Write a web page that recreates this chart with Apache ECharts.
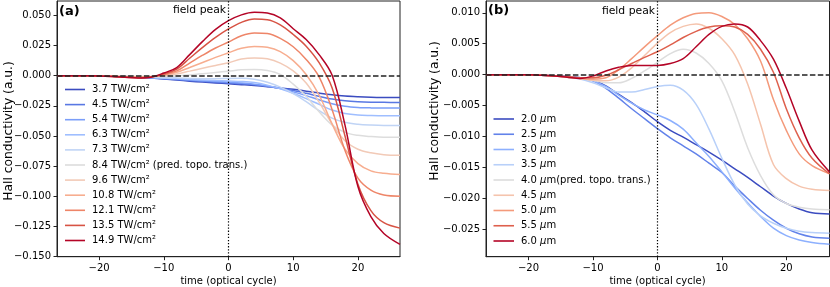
<!DOCTYPE html>
<html><head><meta charset="utf-8">
<script src="https://cdn.jsdelivr.net/npm/echarts@6/dist/echarts.min.js"></script>
<style>html,body{margin:0;padding:0;background:#fff}#c{width:830px;height:287px}</style>
</head><body><div id="c"></div>
<script>
// ---------- DATA ----------
const tA = [-26.5,-24,-22,-20,-18,-16,-14,-12,-10,-8,-6,-4,-2,0,2,4,6,8,10,12,14,16,18,20,22,24,26.5];
const tB = [-26.6,-24,-22,-20,-18,-16,-14,-12,-10,-8,-6,-4,-2,0,2,4,6,8,10,12,14,16,18,20,22,24,26.7];

const namesA = ['3.7 TW/cm²','4.5 TW/cm²','5.4 TW/cm²','6.3 TW/cm²','7.3 TW/cm²','8.4 TW/cm² (pred. topo. trans.)','9.6 TW/cm²','10.8 TW/cm²','12.1 TW/cm²','13.5 TW/cm²','14.9 TW/cm²'];
const namesB = ['2.0 μm','2.5 μm','3.0 μm','3.5 μm','4.0 μm(pred. topo. trans.)','4.5 μm','5.0 μm','5.5 μm','6.0 μm'];

const a37  = [0,0,-0.0001,-0.0002,-0.0004,-0.0008,-0.0013,-0.002,-0.0028,-0.0036,-0.0045,-0.0053,-0.006,-0.0067,-0.0074,-0.0082,-0.0091,-0.0101,-0.0113,-0.0128,-0.0144,-0.0158,-0.0168,-0.0174,-0.0178,-0.018,-0.0181];
const a45  = [0,0,-0.0001,-0.0002,-0.0004,-0.0007,-0.0012,-0.0018,-0.0025,-0.0032,-0.004,-0.0047,-0.0054,-0.006,-0.0067,-0.0076,-0.0089,-0.0104,-0.0123,-0.0146,-0.0171,-0.0193,-0.0208,-0.0216,-0.022,-0.0221,-0.0222];
const a54  = [0,0,-0.0001,-0.0002,-0.0003,-0.0006,-0.0011,-0.0016,-0.0022,-0.0028,-0.0035,-0.0041,-0.0047,-0.0053,-0.006,-0.007,-0.0086,-0.0107,-0.0134,-0.0165,-0.02,-0.0232,-0.0253,-0.0263,-0.0267,-0.0268,-0.0268];
const a63  = [0,0,-0.0001,-0.0002,-0.0003,-0.0006,-0.001,-0.0014,-0.0019,-0.0024,-0.003,-0.0035,-0.004,-0.0044,-0.0048,-0.0057,-0.0078,-0.0108,-0.0146,-0.019,-0.0238,-0.0285,-0.0313,-0.0326,-0.033,-0.0332,-0.0332];
const a73  = [0,0,-0.0001,-0.0001,-0.0003,-0.0005,-0.0008,-0.0012,-0.0016,-0.002,-0.0023,-0.0025,-0.0025,-0.0023,-0.0022,-0.003,-0.0055,-0.0095,-0.0148,-0.0215,-0.029,-0.0352,-0.0387,-0.0403,-0.041,-0.0413,-0.0413];
const a84  = [0,0,-0.0001,-0.0001,-0.0002,-0.0004,-0.0006,-0.0007,-0.0006,-0.0002,0.0006,0.0016,0.0027,0.0038,0.0049,0.0052,0.0043,0.001,-0.007,-0.017,-0.03,-0.041,-0.047,-0.0495,-0.0505,-0.051,-0.051];
const a96  = [0,0,-0.0001,-0.0001,-0.0003,-0.0006,-0.0008,-0.0007,0,0.0015,0.0038,0.0062,0.0085,0.0108,0.0138,0.0147,0.014,0.0105,0.004,-0.006,-0.022,-0.04,-0.054,-0.061,-0.064,-0.0655,-0.066];
const a108 = [0,0,-0.0001,-0.0002,-0.0004,-0.0008,-0.0011,-0.0008,0.0005,0.0028,0.0068,0.011,0.0152,0.019,0.0228,0.0243,0.0236,0.02,0.0125,0.001,-0.016,-0.04,-0.061,-0.073,-0.079,-0.081,-0.082];
const a121 = [0,0,-0.0001,-0.0002,-0.0005,-0.001,-0.0014,-0.001,0.001,0.004,0.0105,0.017,0.023,0.028,0.0332,0.0355,0.035,0.031,0.024,0.0135,-0.001,-0.028,-0.062,-0.085,-0.095,-0.099,-0.1];
const a135 = [0,0,-0.0001,-0.0002,-0.0006,-0.0012,-0.0017,-0.0012,0.0015,0.0055,0.0145,0.0235,0.0318,0.0388,0.0443,0.047,0.0465,0.0422,0.0342,0.0245,0.0108,-0.01,-0.05,-0.09,-0.112,-0.122,-0.1265];
const a149 = [0,0,-0.0001,-0.0002,-0.0006,-0.0012,-0.0018,-0.0012,0.0022,0.0068,0.0175,0.0285,0.0385,0.0457,0.0505,0.0526,0.052,0.048,0.039,0.03,0.0175,0.0005,-0.041,-0.092,-0.117,-0.131,-0.14];

const b20 = [0,0,0,0,-0.0001,-0.0002,-0.0003,-0.0005,-0.0009,-0.0018,-0.0032,-0.0045,-0.006,-0.0076,-0.009,-0.0101,-0.0113,-0.0125,-0.0138,-0.0152,-0.0166,-0.0181,-0.0196,-0.0208,-0.0217,-0.0223,-0.0225];
const b25 = [0,0,0,0,-0.0001,-0.0002,-0.0003,-0.0005,-0.001,-0.0022,-0.0038,-0.0055,-0.0071,-0.0087,-0.0102,-0.0115,-0.0128,-0.0143,-0.0158,-0.018,-0.02,-0.0219,-0.0235,-0.0248,-0.0257,-0.0262,-0.0264];
const b30 = [0,0,0,0,-0.0001,-0.0002,-0.0003,-0.0005,-0.001,-0.0019,-0.0033,-0.0046,-0.0057,-0.0065,-0.0074,-0.0088,-0.011,-0.0132,-0.0157,-0.0183,-0.0207,-0.0229,-0.0248,-0.026,-0.0267,-0.0271,-0.0274];
const b35 = [0,0,0,0,-0.0001,-0.0002,-0.0004,-0.0007,-0.0013,-0.0021,-0.0028,-0.0028,-0.0024,-0.0019,-0.0017,-0.0025,-0.0048,-0.0088,-0.0135,-0.0178,-0.0209,-0.0228,-0.024,-0.0248,-0.0253,-0.0255,-0.0256];
const b40 = [0,0,0,0,-0.0001,-0.0002,-0.0004,-0.0006,-0.0009,-0.0013,-0.0013,-0.0006,0.0006,0.002,0.0034,0.0041,0.0035,0.0018,-0.001,-0.006,-0.0118,-0.0163,-0.0194,-0.0208,-0.0214,-0.0217,-0.0218];
const b45 = [0,0,0,0,-0.0001,-0.0002,-0.0004,-0.0006,-0.0009,-0.001,-0.0004,0.0011,0.0031,0.0051,0.0068,0.0078,0.0082,0.0075,0.0058,0.0032,-0.0015,-0.008,-0.0145,-0.0168,-0.018,-0.0185,-0.0187];
const b50 = [0,0,0,0,-0.0001,-0.0002,-0.0004,-0.0006,-0.0007,-0.0005,0.0008,0.0026,0.0045,0.0063,0.008,0.0092,0.0099,0.01,0.0094,0.0081,0.0058,0.0022,-0.004,-0.009,-0.0128,-0.0147,-0.016];
const b55 = [0,0,0,0,-0.0001,-0.0002,-0.0003,-0.0005,-0.0005,-0.0001,0.0008,0.0018,0.0028,0.0037,0.0048,0.006,0.007,0.0077,0.0079,0.0077,0.0065,0.0041,0.0004,-0.0055,-0.0102,-0.0135,-0.016];
const b60 = [0,0,0,0,-0.0001,-0.0002,-0.0004,-0.0006,-0.0002,0.0006,0.0012,0.0015,0.0015,0.0015,0.0018,0.0026,0.0045,0.0065,0.0078,0.0082,0.0077,0.0055,0.0025,-0.0022,-0.0075,-0.0122,-0.0157];

const valuesA = [a37,a45,a54,a63,a73,a84,a96,a108,a121,a135,a149];
const valuesB = [b20,b25,b30,b35,b40,b45,b50,b55,b60];

const xTicks = [-20,-10,0,10,20];
const yTicksA = [-0.15,-0.125,-0.1,-0.075,-0.05,-0.025,0,0.025,0.05];
const yTicksB = [-0.025,-0.02,-0.015,-0.01,-0.005,0,0.005,0.01];

// ---------- STYLE ----------
const colorsA = ['#3b4cc0','#5978e3','#7b9ef9','#9fbeff','#c0d4f5','#dddddd','#f2cab7','#f7ad8f','#ee8568','#d75344','#b40426'];
const colorsB = ['#3b4cc0','#6282ea','#8db0fe','#b8d0f9','#dddddd','#f5c4ad','#f49a7b','#de604d','#b40426'];
const FONT = 'DejaVu Sans';
const FS = 10;
const AX = '#222';
const minus = s => String(s).replace('-', '\u2212');

const chart = echarts.init(document.getElementById('c'), null, {renderer:'canvas'});

function xAxis(gi, min, max){
  return {gridIndex:gi, type:'value', min:min, max:max,
    axisLine:{show:true, onZero:false, lineStyle:{color:AX, width:1}},
    axisTick:{show:true, length:3.5, customValues:xTicks, lineStyle:{color:AX, width:1}},
    axisLabel:{customValues:xTicks, margin:6.5, color:'#000', fontFamily:FONT, fontSize:FS,
      formatter:v=>minus(Math.round(v))},
    splitLine:{show:false}};
}
function yAxis(gi, min, max, ticks){
  return {gridIndex:gi, type:'value', min:min, max:max,
    axisLine:{show:true, onZero:false, lineStyle:{color:AX, width:1}},
    axisTick:{show:true, length:3.5, customValues:ticks, lineStyle:{color:AX, width:1}},
    axisLabel:{customValues:ticks, margin:6, color:'#000', fontFamily:FONT, fontSize:FS,
      formatter:v=>minus((Math.abs(v)<1e-12?0:v).toFixed(3))},
    splitLine:{show:false}};
}
function refLines(){
  return {silent:true, symbol:'none', label:{show:false}, animation:false,
    data:[
      {yAxis:0, lineStyle:{type:[5.5,2.4], width:1.5, color:'#222'}},
      {xAxis:0, lineStyle:{type:[1.3,1.8], width:1.2, color:'#000'}}
    ]};
}
function mkSeries(names, values, times, colors, gi){
  return names.map((n,k)=>({
    type:'line', name:n, xAxisIndex:gi, yAxisIndex:gi,
    data: times.map((t,i)=>[t, values[k][i]]),
    showSymbol:false, symbol:'none', smooth:0.35, clip:true,
    lineStyle:{width:1.5, color:colors[k]}, itemStyle:{color:colors[k]},
    emphasis:{disabled:true}, animation:false,
    markLine: k===names.length-1 ? refLines() : undefined
  }));
}

const legendText = {fontFamily:FONT, fontSize:FS, color:'#000', lineHeight:12, padding:[0,0,0,2],
  rich:{n:{fontFamily:FONT, fontSize:FS, color:'#000', lineHeight:12}, i:{fontFamily:FONT, fontSize:FS, fontStyle:'italic', color:'#000', lineHeight:12}}};

const option = {
  backgroundColor:'#fff',
  animation:false,
  textStyle:{fontFamily:FONT},
  grid:[
    {left:57, top:1, width:343, height:255.7, show:true, borderColor:AX, borderWidth:1, containLabel:false},
    {left:486, top:1, width:343.5, height:255.7, show:true, borderColor:AX, borderWidth:1, containLabel:false}
  ],
  xAxis:[xAxis(0,-26.5,26.5), xAxis(1,-26.6,26.7)],
  yAxis:[yAxis(0,-0.1502,0.062,yTicksA), yAxis(1,-0.0294,0.0119,yTicksB)],
  legend:[
    {data:namesA, orient:'vertical', left:65, top:83.5, icon:'rect', itemWidth:20, itemHeight:1.6, itemGap:3.1, padding:0,
     selectedMode:false, textStyle:legendText},
    {data:namesB, orient:'vertical', left:493.5, top:113, icon:'rect', itemWidth:20.5, itemHeight:1.6, itemGap:3.25, padding:0,
     selectedMode:false, textStyle:legendText,
     formatter:n=>{const p=n.split('μ'); return '{n|'+p[0]+'}{i|μ}{n|'+p[1]+'}';}}
  ],
  series: mkSeries(namesA, valuesA, tA, colorsA, 0).concat(mkSeries(namesB, valuesB, tB, colorsB, 1)),
  graphic:[
    {type:'text', left:59, top:5, style:{text:'(a)', font:'bold 13px "DejaVu Sans"', fill:'#000'}},
    {type:'text', left:488, top:4, style:{text:'(b)', font:'bold 13px "DejaVu Sans"', fill:'#000'}},
    {type:'text', x:226, y:10, style:{text:'field peak', font:'10.8px "DejaVu Sans"', fill:'#000', align:'right', verticalAlign:'middle'}},
    {type:'text', x:655, y:11, style:{text:'field peak', font:'10.8px "DejaVu Sans"', fill:'#000', align:'right', verticalAlign:'middle'}},
    {type:'text', x:228.5, y:281.5, style:{text:'time (optical cycle)', font:'10px "DejaVu Sans"', fill:'#000', align:'center', verticalAlign:'middle'}},
    {type:'text', x:657.5, y:281.5, style:{text:'time (optical cycle)', font:'10px "DejaVu Sans"', fill:'#000', align:'center', verticalAlign:'middle'}},
    {type:'text', x:8.5, y:131, rotation:Math.PI/2, style:{text:'Hall conductivity (a.u.)', font:'12.3px "DejaVu Sans"', fill:'#000', align:'center', verticalAlign:'middle'}},
    {type:'text', x:435, y:111, rotation:Math.PI/2, style:{text:'Hall conductivity (a.u.)', font:'12.3px "DejaVu Sans"', fill:'#000', align:'center', verticalAlign:'middle'}}
  ]
};
chart.setOption(option);
</script>
</body></html>
